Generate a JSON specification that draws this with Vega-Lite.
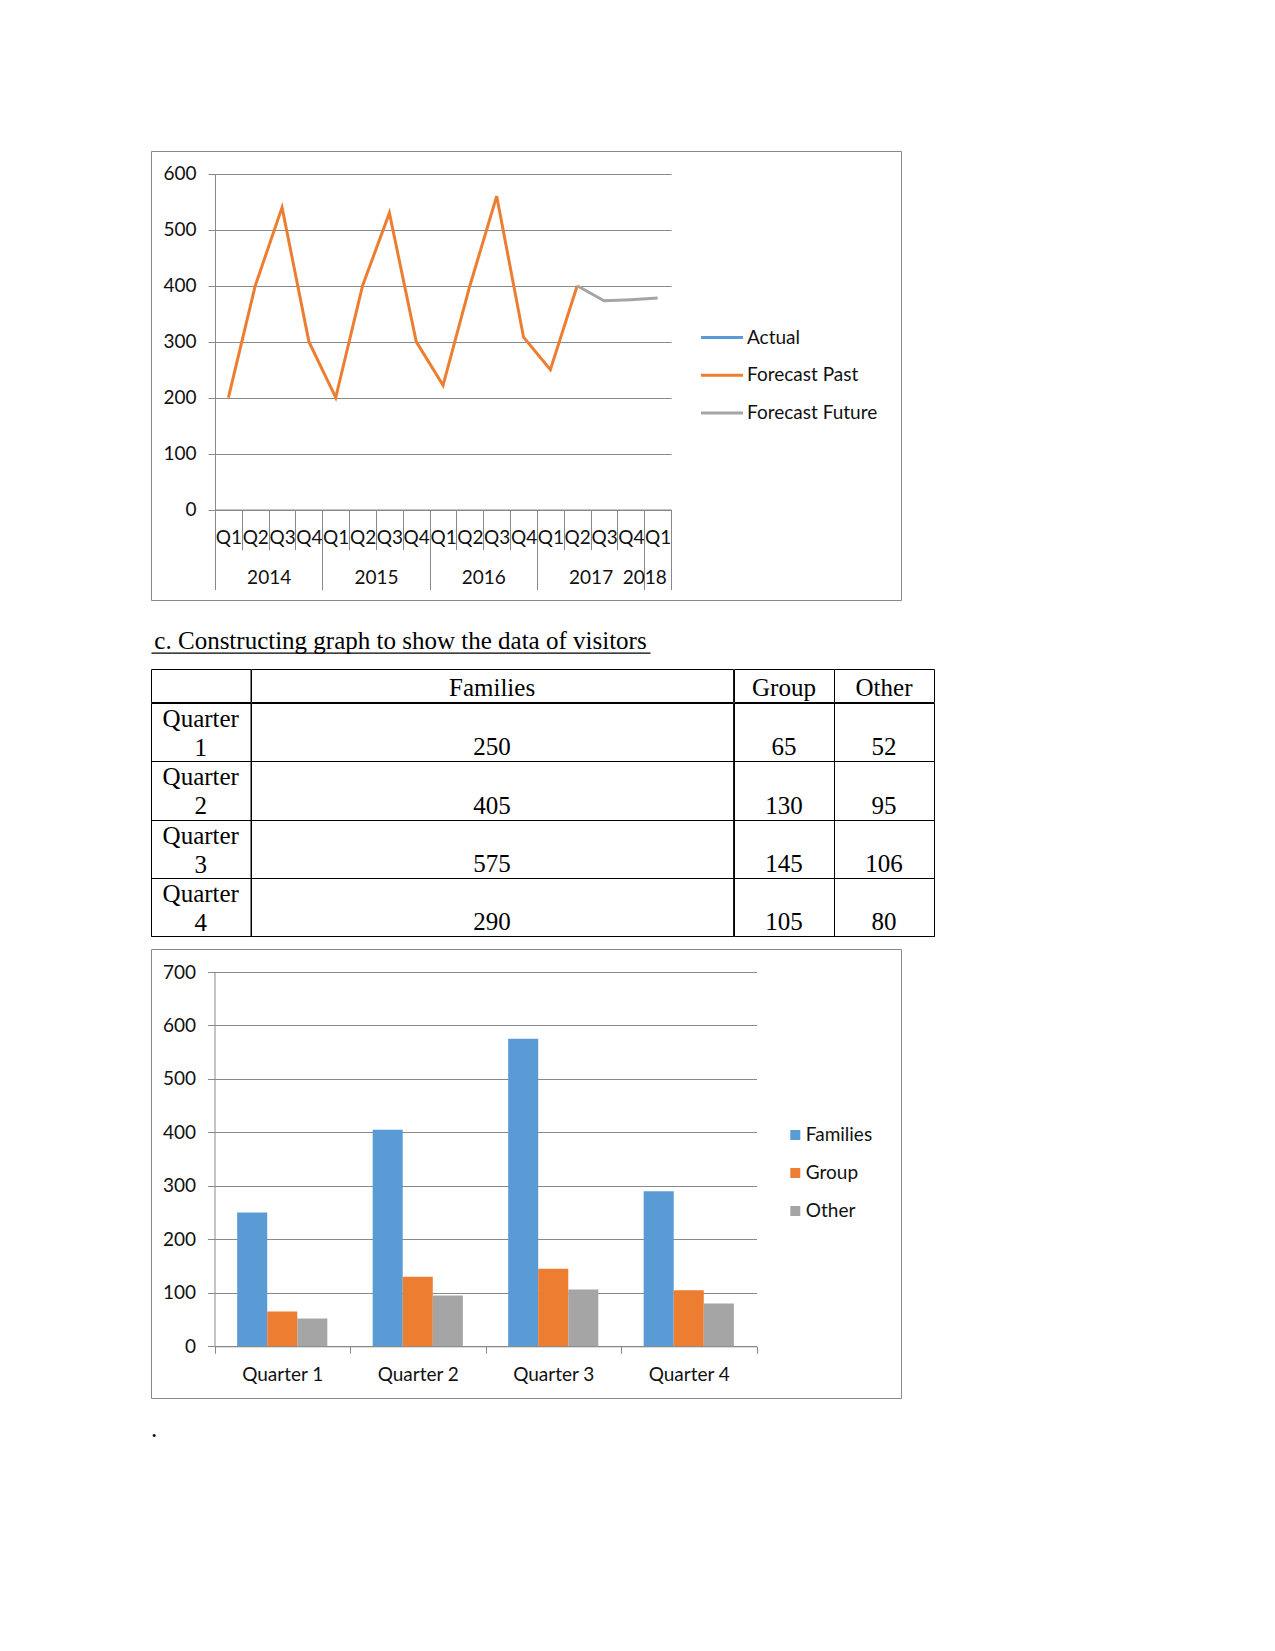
{
  "$schema": "https://vega.github.io/schema/vega-lite/v6.json",
  "background": "white",
  "padding": {"left": 150, "top": 150, "right": 0, "bottom": 0},
  "spacing": 11,
  "bounds": "full",
  "resolve": {"scale": {"color": "independent"}, "legend": {"color": "independent"}},
  "datasets": {
    "trend": [
      {"period": "2014 Q1", "series": "Forecast Past", "value": 200},
      {"period": "2014 Q2", "series": "Forecast Past", "value": 400},
      {"period": "2014 Q3", "series": "Forecast Past", "value": 540},
      {"period": "2014 Q4", "series": "Forecast Past", "value": 300},
      {"period": "2015 Q1", "series": "Forecast Past", "value": 200},
      {"period": "2015 Q2", "series": "Forecast Past", "value": 400},
      {"period": "2015 Q3", "series": "Forecast Past", "value": 530},
      {"period": "2015 Q4", "series": "Forecast Past", "value": 300},
      {"period": "2016 Q1", "series": "Forecast Past", "value": 222},
      {"period": "2016 Q2", "series": "Forecast Past", "value": 400},
      {"period": "2016 Q3", "series": "Forecast Past", "value": 560},
      {"period": "2016 Q4", "series": "Forecast Past", "value": 308},
      {"period": "2017 Q1", "series": "Forecast Past", "value": 250},
      {"period": "2017 Q2", "series": "Forecast Past", "value": 400},
      {"period": "2017 Q2", "series": "Forecast Future", "value": 400},
      {"period": "2017 Q3", "series": "Forecast Future", "value": 373},
      {"period": "2017 Q4", "series": "Forecast Future", "value": 375},
      {"period": "2018 Q1", "series": "Forecast Future", "value": 378}
    ],
    "visitors": [
      {"quarter": "Quarter 1", "Families": 250, "Group": 65, "Other": 52},
      {"quarter": "Quarter 2", "Families": 405, "Group": 130, "Other": 95},
      {"quarter": "Quarter 3", "Families": 575, "Group": 145, "Other": 106},
      {"quarter": "Quarter 4", "Families": 290, "Group": 105, "Other": 80}
    ],
    "headers": [{"col": ""}, {"col": "Families"}, {"col": "Group"}, {"col": "Other"}]
  },
  "vconcat": [
    {
      "width": 750,
      "height": 449,
      "view": {"stroke": "#898989", "strokeWidth": 1},
      "data": {"name": "trend"},
      "layer": [
        {
          "transform": [{"filter": "datum.series == 'Forecast Past'"}],
          "mark": {"type": "line", "strokeWidth": 3},
          "encoding": {
            "x": {
              "field": "period", "type": "nominal", "title": null,
              "scale": {"range": [64, 520.1], "paddingInner": 0, "paddingOuter": 0},
              "axis": {
                "orient": "bottom", "offset": -90.5, "grid": false,
                "tickBand": "extent", "tickSize": 40,
                "labelExpr": "isString(datum.value) ? slice(datum.value, 5) : ''", "labelAngle": 0,
                "labelBaseline": "middle", "labelPadding": -12.3, "labelOverlap": false
              }
            },
            "y": {
              "field": "value", "type": "quantitative", "title": null,
              "scale": {"domain": [0, 600], "range": [358.5, 22.8], "nice": false},
              "axis": {
                "orient": "left", "offset": -64, "values": [0, 100, 200, 300, 400, 500, 600],
                "grid": true, "tickSize": 7, "labelPadding": 12
              }
            },
            "color": {
              "field": "series", "type": "nominal",
              "scale": {"domain": ["Actual", "Forecast Past", "Forecast Future"], "range": ["#5B9BD5", "#ED7D31", "#A5A5A5"]},
              "legend": {
                "orient": "none", "legendX": 548.5, "legendY": 164, "title": null,
                "symbolType": "stroke", "symbolSize": 1764, "symbolStrokeWidth": 3,
                "labelOffset": 2.5, "rowPadding": 4.8
              }
            }
          }
        },
        {
          "transform": [{"filter": "datum.series == 'Forecast Future'"}],
          "mark": {"type": "line", "strokeWidth": 3},
          "encoding": {
            "x": {
              "field": "period", "type": "nominal", "title": null,
              "axis": {
                "orient": "bottom", "offset": -90.5, "grid": false, "domain": false,
                "tickBand": "extent", "tickSize": 80,
                "tickOpacity": {"condition": {"test": "datum.extra || indexof('' + datum.value, 'Q4') >= 0 || datum.value == '2018 Q1'", "value": 1}, "value": 0},
                "labelExpr": "isString(datum.value) ? (indexof(datum.value, 'Q3') >= 0 ? slice(datum.value, 0, 4) : (datum.value == '2018 Q1' ? '\\u00a0\\u00a0\\u00a0\\u00a0\\u00a0\\u00a0\\u00a02018' : '')) : ''",
                "labelOffset": -13.41,
                "labelAngle": 0, "labelBaseline": "middle", "labelPadding": -12.3, "labelOverlap": false
              }
            },
            "y": {"field": "value", "type": "quantitative"},
            "color": {"field": "series", "type": "nominal"}
          }
        }
      ],
      "resolve": {"axis": {"x": "independent"}}
    },
    {
      "width": 499,
      "height": 45,
      "view": {"stroke": null},
      "data": {"values": [{"heading": "c. Constructing graph to show the data of visitors"}]},
      "mark": {"type": "text", "align": "center", "baseline": "alphabetic", "font": "Liberation Serif", "fontSize": 25, "color": "#000000", "dy": 14.8},
      "encoding": {
        "text": {"field": "heading"},
        "x": {
          "field": "heading", "type": "nominal", "title": null,
          "scale": {"paddingInner": 0, "paddingOuter": 0},
          "axis": {"orient": "bottom", "offset": -4.3, "labels": false, "ticks": false, "grid": false, "domainColor": "#000000", "domainWidth": 1.3}
        }
      }
    },
    {
      "spacing": -1,
      "vconcat": [
        {
          "spacing": 0,
          "bounds": "flush",
          "hconcat": [
            {
              "width": 99.5, "height": 33, "view": {"stroke": "#000000"},
              "data": {"name": "headers"},
              "transform": [{"filter": "datum.col == ''"}],
              "mark": {"type": "text", "font": "Liberation Serif", "fontSize": 25, "baseline": "alphabetic", "dy": 10, "color": "#000000"},
              "encoding": {"text": {"field": "col"}}
            },
            {
              "width": 482.1, "height": 33, "view": {"stroke": "#000000"},
              "data": {"name": "headers"},
              "transform": [{"filter": "datum.col == 'Families'"}],
              "mark": {"type": "text", "font": "Liberation Serif", "fontSize": 25, "baseline": "alphabetic", "dy": 10, "color": "#000000"},
              "encoding": {"text": {"field": "col"}}
            },
            {
              "width": 100, "height": 33, "view": {"stroke": "#000000"},
              "data": {"name": "headers"},
              "transform": [{"filter": "datum.col == 'Group'"}],
              "mark": {"type": "text", "font": "Liberation Serif", "fontSize": 25, "baseline": "alphabetic", "dy": 10, "color": "#000000"},
              "encoding": {"text": {"field": "col"}}
            },
            {
              "width": 100, "height": 33, "view": {"stroke": "#000000"},
              "data": {"name": "headers"},
              "transform": [{"filter": "datum.col == 'Other'"}],
              "mark": {"type": "text", "font": "Liberation Serif", "fontSize": 25, "baseline": "alphabetic", "dy": 10, "color": "#000000"},
              "encoding": {"text": {"field": "col"}}
            }
          ]
        },
        {
          "spacing": 0,
          "bounds": "flush",
          "hconcat": [
            {
              "width": 99.5, "height": 233, "view": {"stroke": "#000000"},
              "data": {"name": "visitors"},
              "mark": {"type": "text", "font": "Liberation Serif", "fontSize": 25, "baseline": "alphabetic", "lineBreak": " ", "lineHeight": 29, "dy": 24, "color": "#000000"},
              "encoding": {
                "text": {"field": "quarter"},
                "y": {"field": "quarter", "type": "nominal", "bandPosition": 0, "title": null,
                  "scale": {"paddingInner": 0, "paddingOuter": 0},
                  "axis": {"grid": true, "gridColor": "#000000", "tickBand": "extent", "labels": false, "ticks": false, "domain": false}}
              }
            },
            {
              "width": 482.1, "height": 233, "view": {"stroke": "#000000"},
              "data": {"name": "visitors"},
              "mark": {"type": "text", "font": "Liberation Serif", "fontSize": 25, "baseline": "alphabetic", "dy": 52.3, "color": "#000000"},
              "encoding": {
                "text": {"field": "Families"},
                "y": {"field": "quarter", "type": "nominal", "bandPosition": 0, "title": null,
                  "scale": {"paddingInner": 0, "paddingOuter": 0},
                  "axis": {"grid": true, "gridColor": "#000000", "tickBand": "extent", "labels": false, "ticks": false, "domain": false}}
              }
            },
            {
              "width": 100, "height": 233, "view": {"stroke": "#000000"},
              "data": {"name": "visitors"},
              "mark": {"type": "text", "font": "Liberation Serif", "fontSize": 25, "baseline": "alphabetic", "dy": 52.3, "color": "#000000"},
              "encoding": {
                "text": {"field": "Group"},
                "y": {"field": "quarter", "type": "nominal", "bandPosition": 0, "title": null,
                  "scale": {"paddingInner": 0, "paddingOuter": 0},
                  "axis": {"grid": true, "gridColor": "#000000", "tickBand": "extent", "labels": false, "ticks": false, "domain": false}}
              }
            },
            {
              "width": 100, "height": 233, "view": {"stroke": "#000000"},
              "data": {"name": "visitors"},
              "mark": {"type": "text", "font": "Liberation Serif", "fontSize": 25, "baseline": "alphabetic", "dy": 52.3, "color": "#000000"},
              "encoding": {
                "text": {"field": "Other"},
                "y": {"field": "quarter", "type": "nominal", "bandPosition": 0, "title": null,
                  "scale": {"paddingInner": 0, "paddingOuter": 0},
                  "axis": {"grid": true, "gridColor": "#000000", "tickBand": "extent", "labels": false, "ticks": false, "domain": false}}
              }
            }
          ]
        }
      ]
    },
    {
      "width": 750,
      "height": 449,
      "view": {"stroke": "#898989", "strokeWidth": 1},
      "data": {"name": "visitors"},
      "transform": [{"fold": ["Families", "Group", "Other"], "as": ["series", "count"]}],
      "mark": {"type": "bar"},
      "encoding": {
        "x": {
          "field": "quarter", "type": "nominal", "title": null,
          "scale": {"range": [63.5, 605.5], "paddingInner": 0, "paddingOuter": 0},
          "axis": {"orient": "bottom", "offset": -51.7, "grid": false, "tickBand": "extent", "tickSize": 7,
            "labelAngle": 0, "labelBaseline": "middle", "labelPadding": 20.7}
        },
        "xOffset": {"field": "series", "type": "nominal", "scale": {"paddingInner": 0, "paddingOuter": 0.754}},
        "y": {
          "field": "count", "type": "quantitative", "title": null,
          "scale": {"domain": [0, 700], "range": [397.3, 23], "nice": false},
          "axis": {"orient": "left", "offset": -63.5, "values": [0, 100, 200, 300, 400, 500, 600, 700],
            "grid": true, "tickSize": 7, "labelPadding": 12}
        },
        "color": {
          "field": "series", "type": "nominal",
          "scale": {"domain": ["Families", "Group", "Other"], "range": ["#5B9BD5", "#ED7D31", "#A5A5A5"]},
          "legend": {"orient": "none", "legendX": 634.8, "legendY": 176.5, "title": null,
            "symbolType": "square", "symbolSize": 100, "symbolStrokeWidth": 0, "labelOffset": 1, "rowPadding": 18}
        }
      }
    },
    {
      "width": 6,
      "height": 30,
      "view": {"stroke": null},
      "data": {"values": [{"mark": "."}]},
      "mark": {"type": "text", "align": "center", "baseline": "alphabetic", "font": "Liberation Serif", "fontSize": 25, "color": "#000000", "dy": 12},
      "encoding": {
        "text": {"field": "mark"},
        "x": {"field": "mark", "type": "nominal", "scale": {"paddingInner": 0, "paddingOuter": 0}, "axis": null}
      }
    }
  ],
  "config": {
    "view": {"stroke": null},
    "axis": {
      "labelFont": "Lato", "labelFontSize": 19, "labelColor": "#111111",
      "domainColor": "#898989", "tickColor": "#898989", "gridColor": "#898989",
      "gridOpacity": 1, "domainWidth": 1, "tickWidth": 1, "gridWidth": 1
    },
    "legend": {"labelFont": "Lato", "labelFontSize": 19, "labelColor": "#111111", "padding": 0}
  }
}
